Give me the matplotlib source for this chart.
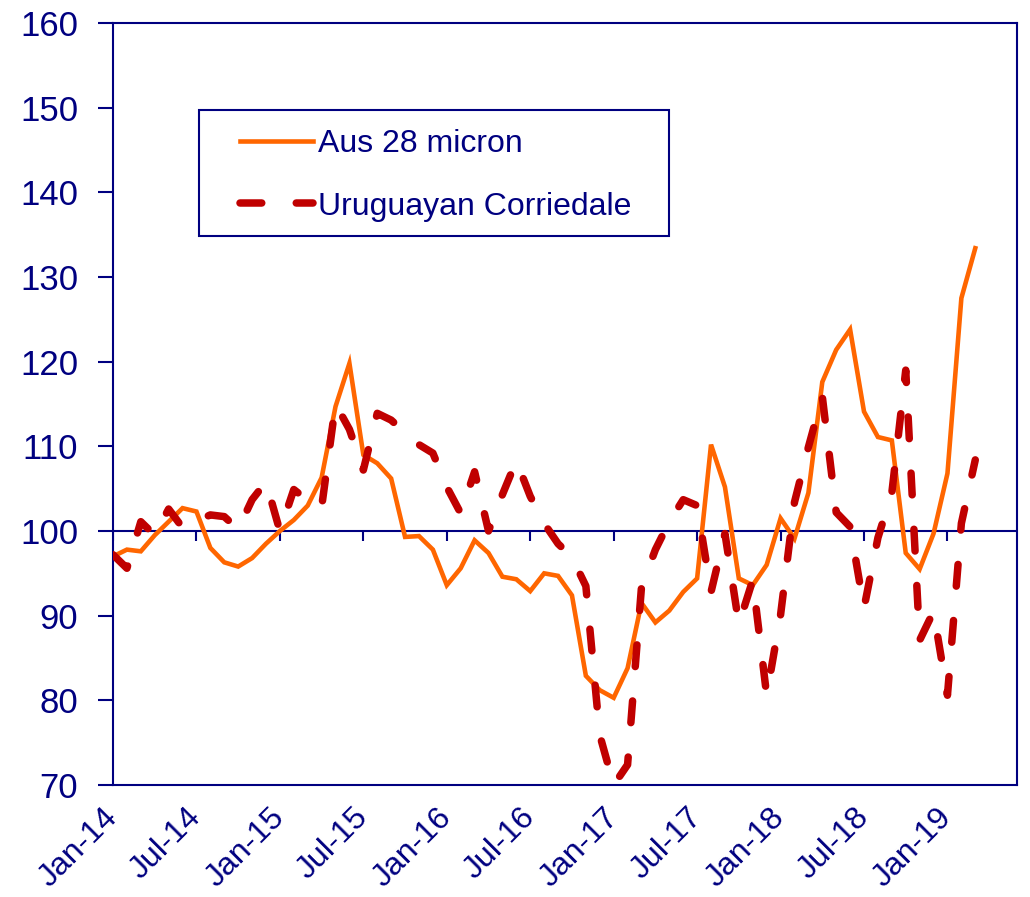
import matplotlib
matplotlib.use('Agg')
import matplotlib.pyplot as plt
import numpy as np
from matplotlib.patches import Rectangle

plt.rcParams['font.family'] = ['Liberation Sans', 'DejaVu Sans']

NAVY = '#000080'

# monthly index values, Jan-14 .. Mar-19
aus = [97.0, 97.8, 97.6, 99.5, 101.1, 102.7, 102.3, 98.0, 96.3, 95.8, 96.8, 98.5,
       100.0, 101.3, 103.0, 106.3, 114.7, 119.8, 109.0, 108.0, 106.2, 99.3, 99.4, 97.8,
       93.6, 95.6, 98.9, 97.4, 94.6, 94.3, 92.9, 95.0, 94.7, 92.4, 82.9, 81.2,
       80.3, 83.8, 91.5, 89.2, 90.6, 92.8, 94.4, 110.2, 105.2, 94.4, 93.6, 96.0,
       101.5, 99.1, 104.5, 117.6, 121.4, 123.8, 114.1, 111.1, 110.7, 97.4, 95.5, 99.7,
       106.8, 127.5, 133.4]
uru = [97.2, 95.6, 101.1, 99.5, 102.6, 100.4, 101.2, 101.9, 101.7, 100.2, 103.7, 105.8,
       100.0, 104.9, 103.6, 102.8, 115.0, 112.0, 107.2, 113.9, 113.1, 111.6, 110.2, 109.2,
       105.2, 102.1, 107.0, 100.0, 104.3, 108.3, 104.1, 100.9, 98.5, 96.9, 93.5, 75.9,
       70.0, 72.4, 93.4, 97.8, 101.1, 103.7, 103.0, 92.8, 99.7, 89.0, 94.2, 80.6,
       90.1, 103.4, 109.9, 115.9, 102.2, 100.5, 90.9, 99.2, 104.5, 119.0, 87.1, 90.5,
       80.6, 100.9, 108.4]
tick_labels = ['Jan-14', 'Jul-14', 'Jan-15', 'Jul-15', 'Jan-16', 'Jul-16',
               'Jan-17', 'Jul-17', 'Jan-18', 'Jul-18', 'Jan-19']
tick_pos = np.arange(0, 61, 6)
x = np.arange(len(aus))

fig = plt.figure(figsize=(10.30, 8.97), dpi=100)
ax = fig.add_axes([113/1030, 1-785/897, 904/1030, 762/897])

ax.plot(x, aus, color='#FF6600', lw=3.3, solid_joinstyle='miter',
        label='Aus 28 micron', zorder=3)
ax.plot(x, uru, color='#C00000', lw=5.4, dashes=(2.9, 4.6), dash_capstyle='round',
        dash_joinstyle='round', label='Uruguayan Corriedale', zorder=3)

# category axis crosses at 100
ax.axhline(100, color=NAVY, lw=1.5, zorder=2)
ax.vlines(tick_pos, 100 - 1.2, 100, color=NAVY, lw=1.5, zorder=2)

ax.set_xlim(0, 65)
ax.set_ylim(70, 160)
ax.set_yticks(np.arange(70, 161, 10))
ax.set_xticks(tick_pos)
ax.set_xticklabels(tick_labels, rotation=45, ha='right', va='center',
                   rotation_mode='anchor')
ax.tick_params(axis='x', length=0, pad=20, labelsize=23, labelcolor=NAVY)
ax.tick_params(axis='y', length=11, width=1.5, color=NAVY, pad=14,
               labelsize=25, labelcolor=NAVY)
for s in ax.spines.values():
    s.set_color(NAVY)
    s.set_linewidth(1.5)

# legend box
ax.add_patch(Rectangle(((199-113)/904, (785-236)/762), 470/904, 126/762,
                       transform=ax.transAxes, facecolor='white', edgecolor=NAVY,
                       lw=1.5, zorder=4))
ax.legend(loc='upper left', bbox_to_anchor=(0.1405, 0.861), frameon=False,
          fontsize=23, labelcolor=NAVY, handlelength=2.29, handletextpad=0.16,
          labelspacing=1.02, borderpad=0, borderaxespad=0).set_zorder(5)

fig.savefig('out.png', dpi=100)
